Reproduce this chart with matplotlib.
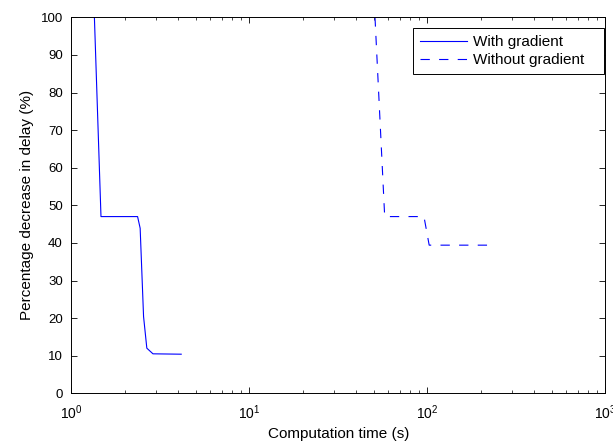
import matplotlib
matplotlib.use("Agg")
import matplotlib.pyplot as plt
import numpy as np

plt.rcParams['font.family'] = ['Liberation Sans', 'DejaVu Sans']
plt.rcParams['font.size'] = 10
plt.rcParams['mathtext.fontset'] = 'custom'
plt.rcParams['mathtext.rm'] = 'Liberation Sans'
plt.rcParams['mathtext.it'] = 'Liberation Sans:italic'
plt.rcParams['mathtext.bf'] = 'Liberation Sans:bold'

# With gradient
t_with = [1.35, 1.47, 2.36, 2.44, 2.55, 2.66, 2.88, 4.15]
d_with = [100.0, 47.0, 47.0, 43.9, 20.4, 12.0, 10.5, 10.4]

# Without gradient
t_without = [50.9, 57.7, 95.9, 102.6, 242.6]
d_without = [100.0, 47.0, 47.0, 39.4, 39.4]

fig = plt.figure(figsize=(6.13, 4.41), dpi=100)
ax = fig.add_axes([71.2/613, 1-393.3/441, (605.2-71.2)/613, (393.3-17.3)/441])

ax.plot(t_with, d_with, color='#0000ff', lw=0.8, label='With gradient')
l2, = ax.plot(t_without, d_without, color='#0000ff', lw=0.8, label='Without gradient')
l2.set_dashes((6.7/0.8, 6.7/0.8))

ax.set_xscale('log')
ax.set_xlim(1, 1000)
ax.set_ylim(0, 100)
ax.set_yticks(np.arange(0, 101, 10))
ax.tick_params(which='both', direction='in', top=True, right=True, labelsize=9.5)
ax.tick_params(axis='y', which='major', pad=6)
ax.tick_params(axis='x', which='major', pad=7.5, labelsize=10)
ax.tick_params(which='major', length=4, width=0.6)
ax.tick_params(which='minor', length=2, width=0.5)
for s in ax.spines.values():
    s.set_linewidth(0.7)

ax.set_xlabel('Computation time (s)', labelpad=3.5, fontsize=11)
ax.set_ylabel('Percentage decrease in delay (%)', labelpad=5, fontsize=11)

leg = ax.legend(loc='upper left',
                bbox_to_anchor=(413/613, 1-75/441, 191/613, 47/441),
                bbox_transform=fig.transFigure, borderaxespad=0, mode='expand',
                fancybox=False, framealpha=1, edgecolor='black',
                handlelength=3.1, handletextpad=0.35, fontsize=11,
                borderpad=0.45, labelspacing=0.3)
leg.get_frame().set_linewidth(0.7)

fig.savefig('out.png', dpi=100)
